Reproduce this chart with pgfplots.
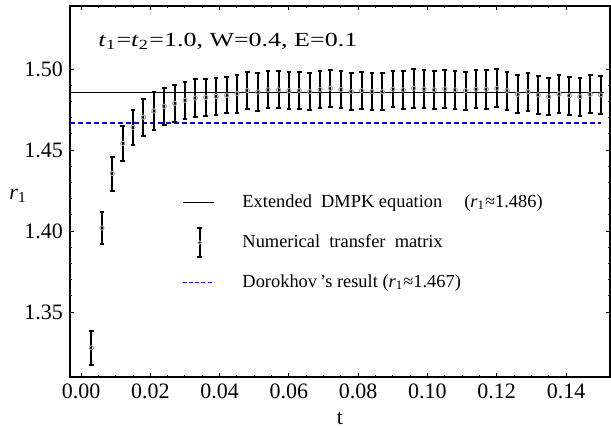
\documentclass[border=0pt]{standalone}
\usepackage{fontspec}
\setmainfont{Liberation Serif}
\usepackage{graphicx}
\usepackage{pgfplots}
\pgfplotsset{compat=1.18}
\usetikzlibrary{calc}

\pgfplotstableread{
t      r       e
0.003  1.3280  0.0105
0.006  1.4020  0.0098
0.009  1.4356  0.0105
0.012  1.4542  0.0110
0.015  1.4641  0.0107
0.018  1.4703  0.0115
0.021  1.4742  0.0115
0.024  1.4771  0.0114
0.027  1.4789  0.0113
0.030  1.4808  0.0113
0.033  1.4822  0.0115
0.036  1.4826  0.0113
0.039  1.4832  0.0113
0.042  1.4839  0.0112
0.045  1.4849  0.0117
0.048  1.4868  0.0115
0.051  1.4859  0.0115
0.054  1.4872  0.0114
0.057  1.4872  0.0114
0.060  1.4868  0.0115
0.063  1.4868  0.0115
0.066  1.4861  0.0115
0.069  1.4874  0.0114
0.072  1.4882  0.0115
0.075  1.4874  0.0115
0.078  1.4861  0.0115
0.081  1.4868  0.0115
0.084  1.4861  0.0115
0.087  1.4861  0.0115
0.090  1.4876  0.0112
0.093  1.4872  0.0117
0.096  1.4882  0.0121
0.099  1.4876  0.0117
0.102  1.4872  0.0117
0.105  1.4878  0.0118
0.108  1.4872  0.0117
0.111  1.4868  0.0117
0.114  1.4876  0.0118
0.117  1.4876  0.0120
0.120  1.4882  0.0118
0.123  1.4868  0.0117
0.126  1.4845  0.0117
0.129  1.4861  0.0117
0.132  1.4841  0.0117
0.135  1.4830  0.0115
0.138  1.4847  0.0117
0.141  1.4837  0.0117
0.144  1.4830  0.0117
0.147  1.4845  0.0117
0.150  1.4841  0.0117
}\numdata

\begin{document}
\begin{tikzpicture}
\begin{axis}[
  scale only axis,
  width=270pt, height=185.5pt,
  xmin=-0.0032, xmax=0.1527,
  ymin=1.310, ymax=1.539,
  xtick={0,0.02,...,0.14},
  ytick={1.35,1.40,1.45,1.50},
  minor x tick num=3,
  minor y tick num=4,
  tick align=inside,
  major tick length=2pt,
  minor tick length=1.2pt,
  every tick/.style={black, line width=0.5pt},
  axis line style={line width=1pt},
  x tick label style={/pgf/number format/.cd, fixed, fixed zerofill, precision=2, assume math mode=true},
  y tick label style={/pgf/number format/.cd, fixed, fixed zerofill, precision=2, assume math mode=true},
  tick label style={font=\fontsize{11}{13}\selectfont},
  xlabel={t},
  xlabel style={font=\fontsize{11}{13}\selectfont, at={(axis description cs:0.5,0)}, anchor=center, yshift=-20.6pt},
  ylabel={\textit{r}\textsubscript{1}},
  ylabel style={font=\fontsize{11}{13}\selectfont, rotate=-90, at={(axis description cs:-0.096,0.488)}, anchor=center},
  legend style={draw=none, fill=none, inner sep=0pt, outer sep=0pt,
    at={(axis description cs:0.2074,0.4946)}, anchor=north west,
    font=\fontsize{9.2}{11}\selectfont, row sep=11pt,
    nodes={inner sep=0pt, text height=7pt, text depth=2pt},
    /tikz/every odd column/.append style={column sep=14pt}},
  legend cell align=left,
]
\addlegendimage{legend image code/.code={\draw[black, line width=0.7pt] (0pt,0pt) -- (15.5pt,0pt);}}
\addlegendentry{Extended\ \ DMPK equation\hspace{11pt}(\textit{r}\textsubscript{1}≈1.486)}
\addlegendimage{legend image code/.code={
  \path[draw=none, fill=none] (0pt,0pt) -- (15.5pt,0pt);
  \begin{scope}[overlay]
  \draw[black, line width=0.9pt] (8.5pt,-7.4pt) -- (8.5pt,7.4pt);
  \draw[black, line width=0.9pt] (7.3pt,-7.4pt) -- (9.7pt,-7.4pt);
  \draw[black, line width=0.9pt] (7.3pt,7.4pt) -- (9.7pt,7.4pt);
  \draw[gray!80, line width=0.4pt] (8.5pt,0pt) circle (0.9pt);
  \end{scope}}}
\addlegendentry{Numerical\ \ transfer\ \ matrix}
\addlegendimage{legend image code/.code={\draw[blue, line width=0.75pt, dash pattern=on 2pt off 1.1pt] (0pt,0pt) -- (15.5pt,0pt);}}
\addlegendentry{Dorokhov\,'s result (\textit{r}\textsubscript{1}≈1.467)}

\addplot[forget plot, black, line width=0.7pt] coordinates {(-0.0032,1.4857) (0.151,1.4857)};
\addplot[forget plot, blue, line width=0.75pt, dash pattern=on 2.5pt off 1.5pt] coordinates {(-0.0032,1.4669) (0.150,1.4669)};
\addplot[forget plot, only marks, mark=o, mark size=1.05pt, mark options={gray!75, line width=0.5pt},
  error bars/.cd, y dir=both, y explicit,
  error bar style={black, line width=1pt},
  error mark options={black, rotate=90, mark size=1.15pt, line width=1pt}]
  table[x=t, y=r, y error=e] {\numdata};

\node[anchor=base west, font=\fontsize{10}{12}\selectfont, inner sep=0pt] at (axis description cs:0.0519,0.8895)
  {\scalebox{1.3}[1]{\textit{t}\textsubscript{1}=\textit{t}\textsubscript{2}=1.0, W=0.4, E=0.1}};
\coordinate (bl) at (rel axis cs:0,0);
\coordinate (tr) at (rel axis cs:1,1);
\end{axis}
\pgfresetboundingbox
\path[use as bounding box] ($(bl)+(-35pt,-25.5pt)$) rectangle ($(tr)+(0.5pt,3pt)$);
\end{tikzpicture}
\end{document}
